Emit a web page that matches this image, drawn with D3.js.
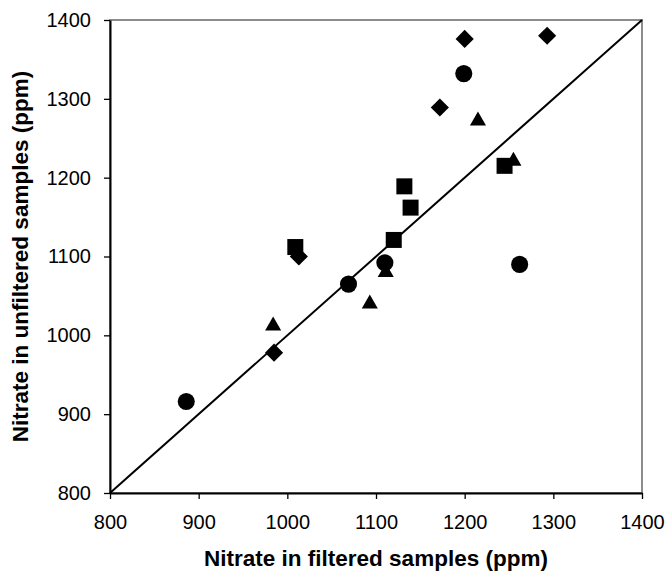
<!DOCTYPE html>
<html>
<head>
<meta charset="utf-8">
<script src="https://cdn.jsdelivr.net/npm/d3@7"></script>
<style>
  body { margin: 0; background: #fff; }
  svg text { font-family: "Liberation Sans", Arial, sans-serif; fill: #000; }
</style>
</head>
<body>
<svg id="chart" width="667" height="575"></svg>
<script>
// values (ppm)
var diamondX = [985, 1013, 1172, 1200, 1293];
var diamondY = [978, 1100, 1289, 1376, 1380];

var squareX = [1009, 1120, 1132, 1139, 1245];
var squareY = [1112, 1121, 1189, 1162, 1215];

var triangleX = [984, 1093, 1111, 1215, 1255];
var triangleY = [1012, 1040, 1080, 1272, 1221];

var circleX = [886, 1069, 1110, 1199, 1262];
var circleY = [916, 1065, 1092, 1332, 1090];

var axisTicks = [800, 900, 1000, 1100, 1200, 1300, 1400];
var oneToOne = [800, 1400];

var xTitle = "Nitrate in filtered samples (ppm)",
    yTitle = "Nitrate in unfiltered samples (ppm)";

var svg = d3.select("#chart");

// note: "top" is taken by window.top, so plot edges get their own names
var plotL = 110, plotR = 642, plotT = 20, plotB = 493;

var x = d3.scaleLinear().domain([800, 1400]).range([plotL, plotR]),
    y = d3.scaleLinear().domain([800, 1400]).range([plotB, plotT]);

// plot area border (grey top / right)
svg.append("rect")
    .attr("x", plotL).attr("y", plotT)
    .attr("width", plotR - plotL).attr("height", plotB - plotT)
    .attr("fill", "none")
    .attr("stroke", "#8c8c8c")
    .attr("stroke-width", 2);

// axes
var xAxis = d3.axisBottom(x).tickValues(axisTicks).tickFormat(d3.format("d"))
      .tickSizeInner(6).tickSizeOuter(0).tickPadding(16),
    yAxis = d3.axisLeft(y).tickValues(axisTicks).tickFormat(d3.format("d"))
      .tickSizeInner(6).tickSizeOuter(0).tickPadding(13);

var gx = svg.append("g")
    .attr("transform", "translate(0," + plotB + ")")
    .call(xAxis);
var gy = svg.append("g")
    .attr("transform", "translate(" + plotL + ",0)")
    .call(yAxis);

[gx, gy].forEach(function(g) {
  g.select(".domain").attr("stroke", "#000").attr("stroke-width", 2);
  g.selectAll(".tick line").attr("stroke", "#000").attr("stroke-width", 1.3);
  g.selectAll(".tick text")
    .style("font-family", '"Liberation Sans", Arial, sans-serif')
    .style("font-size", "20px")
    .attr("fill", "#000");
});

// 1:1 line
svg.append("line")
    .attr("x1", x(oneToOne[0])).attr("y1", y(oneToOne[0]))
    .attr("x2", x(oneToOne[1])).attr("y2", y(oneToOne[1]))
    .attr("stroke", "#000")
    .attr("stroke-width", 2);

// series
var series = [
  { xs: diamondX, ys: diamondY, type: d3.symbolSquare, size: 165, rotate: 45 },
  { xs: squareX, ys: squareY, type: d3.symbolSquare, size: 256, rotate: 0 },
  { xs: triangleX, ys: triangleY, type: d3.symbolTriangle, size: 112, rotate: 0 },
  { xs: circleX, ys: circleY, type: d3.symbolCircle, size: 230, rotate: 0 }
];

series.forEach(function(s) {
  var pts = s.xs.map(function(v, i) { return { x: v, y: s.ys[i] }; });
  svg.append("g")
    .selectAll("path")
    .data(pts)
    .enter().append("path")
      .attr("d", d3.symbol().type(s.type).size(s.size))
      .attr("transform", function(d) {
        return "translate(" + x(d.x) + "," + y(d.y) + ") rotate(" + s.rotate + ")";
      })
      .attr("fill", "#000");
});

// titles
svg.append("text")
    .attr("x", (plotL + plotR) / 2)
    .attr("y", 566)
    .attr("text-anchor", "middle")
    .style("font-size", "22.5px")
    .style("font-weight", "bold")
    .text(xTitle);

svg.append("text")
    .attr("transform", "translate(28," + (plotT + plotB) / 2 + ") rotate(-90)")
    .attr("text-anchor", "middle")
    .style("font-size", "22.5px")
    .style("font-weight", "bold")
    .text(yTitle);
</script>
</body>
</html>
